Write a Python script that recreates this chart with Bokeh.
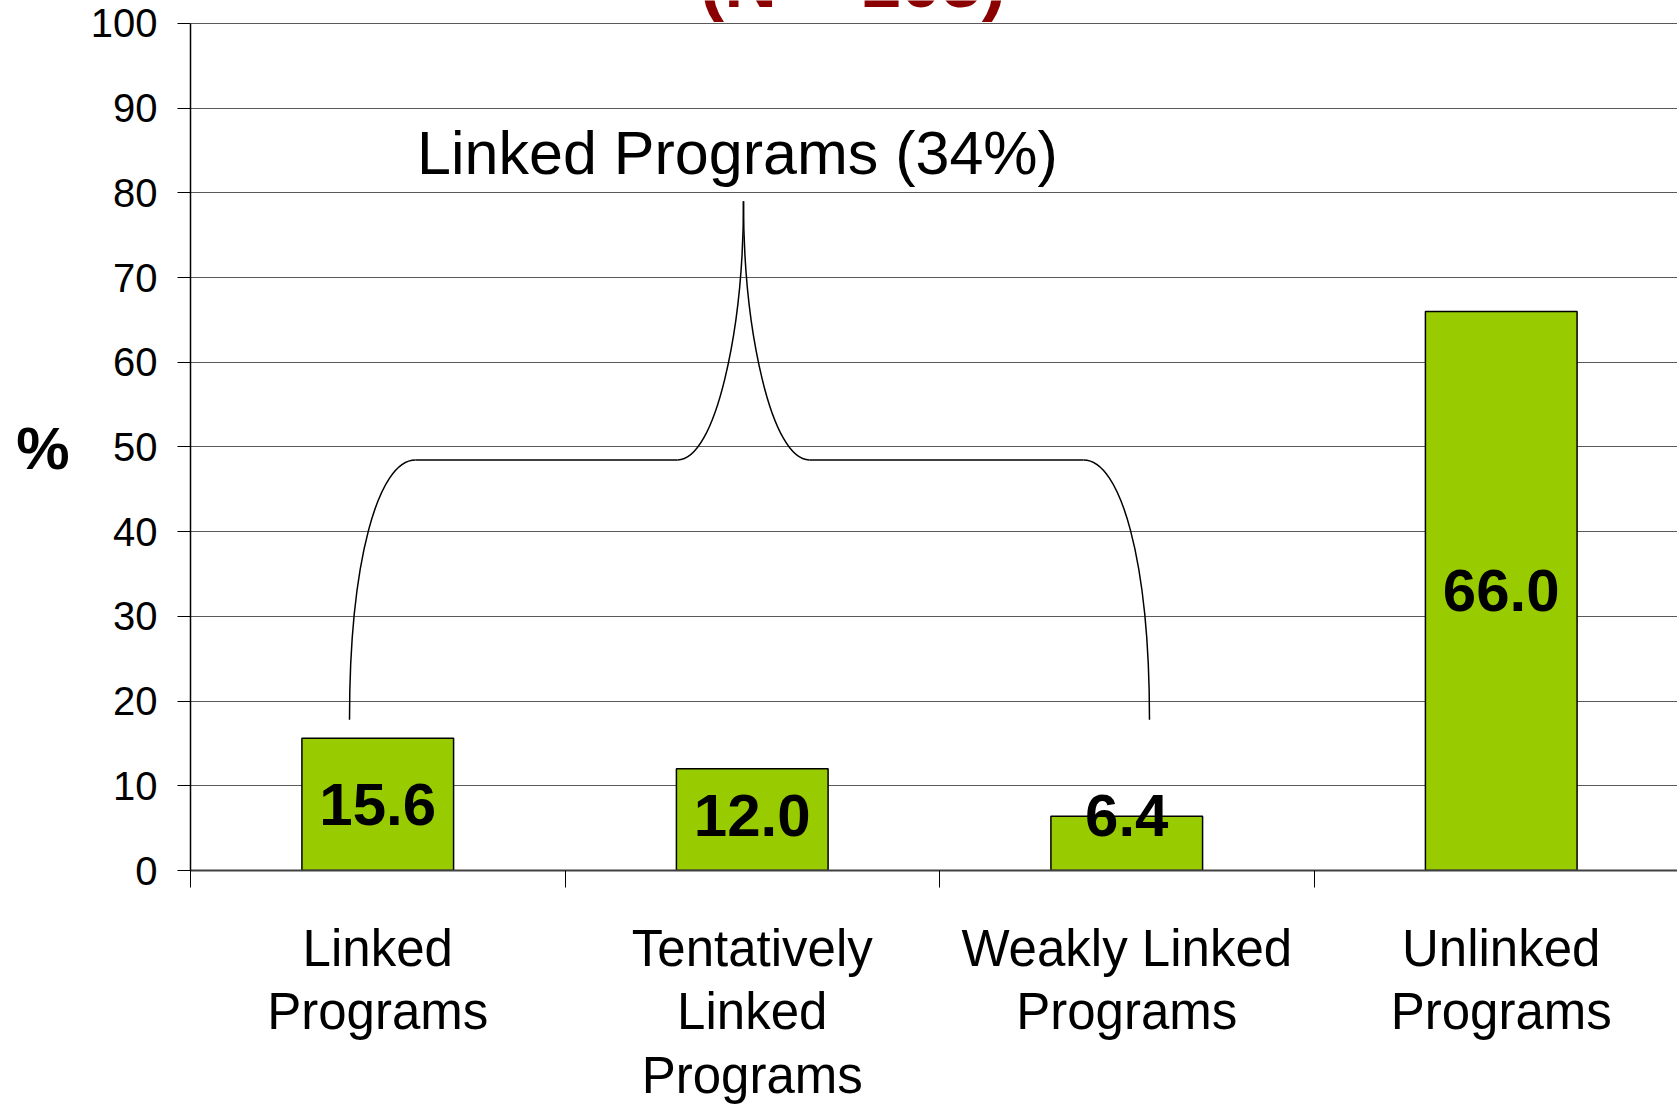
import numpy as np
from bokeh.plotting import figure
from bokeh.models import Range1d, FixedTicker, Label, LinearAxis
from bokeh.core.properties import value
from bokeh.embed import file_html
from bokeh.resources import INLINE

# ---- data ----
categories = ["Linked\nPrograms", "Tentatively\nLinked\nPrograms",
              "Weakly Linked\nPrograms", "Unlinked\nPrograms"]
values = [15.6, 12.0, 6.4, 66.0]
value_labels = ["15.6", "12.0", "6.4", "66.0"]
y_ticks = [0, 10, 20, 30, 40, 50, 60, 70, 80, 90, 100]
group_label = "Linked Programs (34%)"
title_text = "(N = 105)"
y_label = "%"

# ---- layout ----
W, H = 1677, 1107
LEFT = 190
FRAME_BOTTOM = 871          # pixel row of y = 0
PX_PER_UNIT = 8.48          # pixels per percent
BOTTOM = H - FRAME_BOTTOM
CAT_PX = 374.5
x_end = (W - LEFT) / CAT_PX
y_end = FRAME_BOTTOM / PX_PER_UNIT   # frame reaches the top of the canvas
Y_LABEL_AT = 49.8
FONT = "Liberation Sans"

centers = np.arange(len(values)) + 0.5

p = figure(width=W, height=H, x_range=Range1d(0, x_end), y_range=Range1d(0, y_end),
           output_backend="svg", toolbar_location=None,
           min_border_left=LEFT, min_border_right=0, min_border_top=0,
           min_border_bottom=BOTTOM)
p.outline_line_color = None
p.background_fill_color = "white"
p.border_fill_color = "white"

# grid
p.xgrid.visible = False
p.ygrid.ticker = FixedTicker(ticks=y_ticks)
p.ygrid.grid_line_color = "#5a5a5a"
p.ygrid.grid_line_width = 1

# y axis
p.yaxis.bounds = (y_ticks[0], y_ticks[-1])
p.yaxis.ticker = FixedTicker(ticks=y_ticks, minor_ticks=[])
p.yaxis.major_tick_out = 13
p.yaxis.major_tick_in = 0
p.yaxis.minor_tick_out = 0
p.yaxis.major_tick_line_color = "black"
p.yaxis.axis_line_color = "black"
p.yaxis.axis_line_width = 1.5
p.yaxis.major_label_text_font = FONT
p.yaxis.major_label_text_font_size = "40px"
p.yaxis.major_label_text_color = "black"
p.yaxis.major_label_standoff = 20

# "%" title of the value axis, written horizontally at the middle of the scale
pct_axis = LinearAxis(ticker=FixedTicker(ticks=[Y_LABEL_AT], minor_ticks=[]),
                      major_label_overrides={Y_LABEL_AT: y_label},
                      major_tick_out=0, major_tick_in=0, minor_tick_out=0,
                      minor_tick_in=0, axis_line_color=None,
                      major_label_text_font=FONT, major_label_text_font_style="bold",
                      major_label_text_font_size="60px", major_label_text_color="black",
                      major_label_standoff=18)
p.add_layout(pct_axis, "left")

# x axis: boundary ticks as minor ticks, category names at the centres
p.xaxis.ticker = FixedTicker(ticks=list(centers), minor_ticks=list(range(len(values))))
p.xaxis.major_tick_out = 0
p.xaxis.major_tick_in = 0
p.xaxis.minor_tick_out = 17
p.xaxis.minor_tick_in = 0
p.xaxis.minor_tick_line_color = "black"
p.xaxis.axis_line_color = "#404040"
p.xaxis.axis_line_width = 2
p.xaxis.major_label_overrides = {float(c): t for c, t in zip(centers, categories)}
p.xaxis.major_label_text_font = FONT
p.xaxis.major_label_text_font_size = "51px"
p.xaxis.major_label_text_color = "black"
p.xaxis.major_label_text_line_height = 1.12
p.xaxis.major_label_standoff = 32

# bars
p.vbar(x=centers, top=values, bottom=0, width=0.405,
       fill_color="#99CC00", line_color="black", line_width=1.5)

# value labels
label_y = np.maximum(np.array(values) / 2, 6.5)
p.text(x=centers, y=label_y, text=value_labels,
       text_font=value(FONT), text_font_style="bold", text_font_size="60px",
       text_align="center", text_baseline="middle", text_color="black")

# curly brace grouping the three linked categories (data units)
xL, xT, xR = 0.4246, 1.4766, 2.5607
yB, yM, yT = 17.8, 48.47, 79.0
w = 0.176
bx0 = [xL, xT - w, xT + w, xR]
by0 = [yB, yM, yM, yB]
bx1 = [xL + w, xT, xT, xR - w]
by1 = [yM, yT, yT, yM]
cx0 = [xL, xT - w + 0.576 * w, xT + w - 0.576 * w, xR]
cy0 = [yB + (yM - yB) * 0.615, yM, yM, yB + (yM - yB) * 0.615]
cx1 = [xL + 0.44 * w, xT, xT, xR - 0.44 * w]
cy1 = [yM, yM + (yT - yM) * 0.5, yM + (yT - yM) * 0.5, yM]
p.bezier(x0=bx0, y0=by0, x1=bx1, y1=by1, cx0=cx0, cy0=cy0, cx1=cx1, cy1=cy1,
         line_color="black", line_width=1.5)
p.segment(x0=[xL + w, xT + w], y0=[yM, yM], x1=[xT - w, xR - w], y1=[yM, yM],
          line_color="black", line_width=1.5)

p.add_layout(Label(x=1.4606, y=84.7, text=group_label, text_align="center",
                   text_baseline="middle", text_font=FONT, text_font_size="61px",
                   text_color="black"))

# title, cut at the top edge as in the original slide
p.add_layout(Label(x=1.769, y=104.9, text=title_text,
                   text_align="center", text_baseline="middle", text_font=FONT,
                   text_font_style="bold", text_font_size="73px", text_color="#8B0000"))

open("out.html", "w").write(file_html(p, INLINE))
